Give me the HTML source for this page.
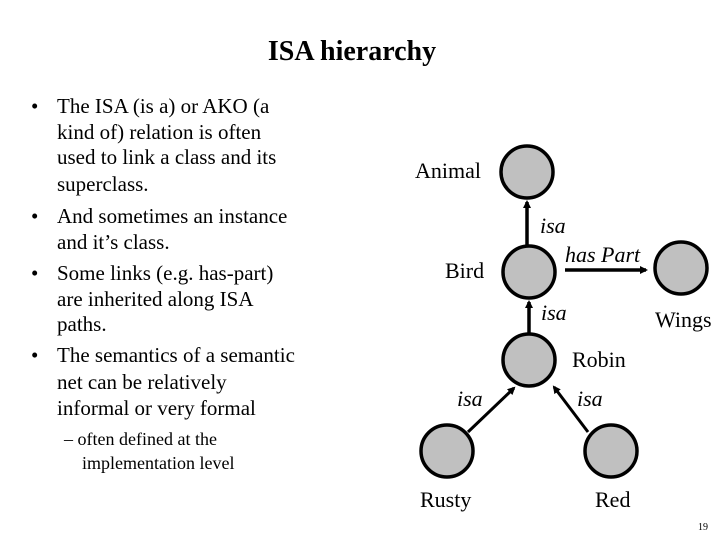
<!DOCTYPE html>
<html><head><meta charset="utf-8"><style>
body{margin:0;background:#fff}
svg{display:block}
text{font-family:"Liberation Serif",serif;fill:#000}
</style></head><body>
<svg width="720" height="540" viewBox="0 0 720 540" xmlns="http://www.w3.org/2000/svg">
<defs><marker id="a" markerWidth="8" markerHeight="8" refX="6" refY="4" orient="auto" markerUnits="userSpaceOnUse"><path d="M0,0 L8,4 L0,8 z" fill="#000"/></marker></defs>
<text x="352" y="60" font-size="28" font-weight="bold" text-anchor="middle">ISA hierarchy</text>
<g font-size="21">
<text x="31" y="113">•</text><text x="57" y="113">The ISA (is a) or AKO (a</text>
<text x="57" y="139">kind of) relation is often</text>
<text x="57" y="164">used to link a class and its</text>
<text x="57" y="191">superclass.</text>
<text x="31" y="223">•</text><text x="57" y="223">And sometimes an instance</text>
<text x="57" y="249">and it’s class.</text>
<text x="31" y="280">•</text><text x="57" y="280">Some links (e.g. has-part)</text>
<text x="57" y="306">are inherited along ISA</text>
<text x="57" y="331">paths.</text>
<text x="31" y="362">•</text><text x="57" y="362">The semantics of a semantic</text>
<text x="57" y="389">net can be relatively</text>
<text x="57" y="415">informal or very formal</text>
</g>
<g font-size="18">
<text x="64" y="445">– often defined at the</text>
<text x="82" y="469">implementation level</text>
</g>
<g stroke="#000" stroke-width="3.5">
<line x1="527" y1="245" x2="527" y2="202" marker-end="url(#a)"/>
<line x1="529" y1="335" x2="529" y2="302" marker-end="url(#a)"/>
<line x1="565" y1="270" x2="646" y2="270" marker-end="url(#a)"/>
<line x1="468" y1="432" x2="514" y2="388" stroke-width="3" marker-end="url(#a)"/>
<line x1="588" y1="432" x2="554" y2="387" stroke-width="3" marker-end="url(#a)"/>
</g>
<g fill="#c0c0c0" stroke="#000" stroke-width="3.5">
<circle cx="527" cy="172" r="26"/>
<circle cx="529" cy="272" r="26"/>
<circle cx="681" cy="268" r="26"/>
<circle cx="529" cy="360" r="26"/>
<circle cx="447" cy="451" r="26"/>
<circle cx="611" cy="451" r="26"/>
</g>
<g font-size="22">
<text x="415" y="178">Animal</text>
<text x="445" y="278">Bird</text>
<text x="655" y="327">Wings</text>
<text x="572" y="367">Robin</text>
<text x="420" y="507">Rusty</text>
<text x="595" y="507">Red</text>
</g>
<g font-size="22" font-style="italic">
<text x="540" y="233">isa</text>
<text x="565" y="262">has</text><text x="601" y="262">Part</text>
<text x="541" y="320">isa</text>
<text x="457" y="406">isa</text>
<text x="577" y="406">isa</text>
</g>
<text x="708" y="530" font-size="10" text-anchor="end">19</text>
</svg>
</body></html>
